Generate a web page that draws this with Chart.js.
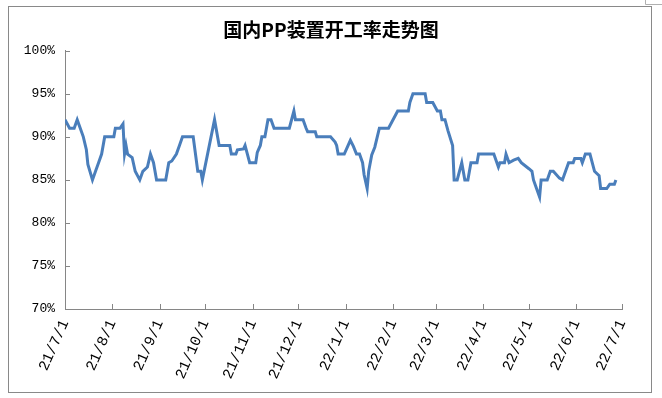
<!DOCTYPE html>
<html>
<head>
<meta charset="utf-8">
<script src="https://cdn.jsdelivr.net/npm/chart.js@4"></script>
<style>
    body { margin: 0; background: #fff; }
    canvas { display: block; }
</style>
</head>
<body>
<canvas id="rateChart" width="662" height="398"></canvas>
<script>

// breakpoints of the daily operating-rate line (date, value %)
const dates = [
    '2021-07-01', '2021-07-04', '2021-07-07', '2021-07-09', '2021-07-11', '2021-07-13',
    '2021-07-15', '2021-07-16', '2021-07-19', '2021-07-21', '2021-07-23', '2021-07-25',
    '2021-07-27', '2021-08-02', '2021-08-03', '2021-08-06', '2021-08-08', '2021-08-09',
    '2021-08-10', '2021-08-11', '2021-08-14', '2021-08-16', '2021-08-19', '2021-08-21',
    '2021-08-24', '2021-08-26', '2021-08-28', '2021-08-30', '2021-09-05', '2021-09-07',
    '2021-09-09', '2021-09-12', '2021-09-14', '2021-09-16', '2021-09-23', '2021-09-26',
    '2021-09-28', '2021-09-29', '2021-10-07', '2021-10-10', '2021-10-17', '2021-10-18',
    '2021-10-21', '2021-10-22', '2021-10-26', '2021-10-27', '2021-10-30', '2021-11-03',
    '2021-11-04', '2021-11-06', '2021-11-07', '2021-11-09', '2021-11-11', '2021-11-13',
    '2021-11-15', '2021-11-25', '2021-11-28', '2021-11-29', '2021-12-04', '2021-12-06',
    '2021-12-07', '2021-12-12', '2021-12-13', '2021-12-22', '2021-12-25', '2021-12-26',
    '2021-12-27', '2021-12-31', '2022-01-04', '2022-01-06', '2022-01-08', '2022-01-10',
    '2022-01-12', '2022-01-13', '2022-01-15', '2022-01-16', '2022-01-18', '2022-01-20',
    '2022-01-23', '2022-01-29', '2022-02-04', '2022-02-11', '2022-02-12', '2022-02-14',
    '2022-02-22', '2022-02-23', '2022-02-27', '2022-03-02', '2022-03-04', '2022-03-05',
    '2022-03-07', '2022-03-09', '2022-03-12', '2022-03-13', '2022-03-15', '2022-03-18',
    '2022-03-20', '2022-03-22', '2022-03-24', '2022-03-28', '2022-03-29', '2022-04-08',
    '2022-04-11', '2022-04-12', '2022-04-15', '2022-04-16', '2022-04-18', '2022-04-21',
    '2022-04-24', '2022-04-26', '2022-05-01', '2022-05-03', '2022-05-04', '2022-05-06',
    '2022-05-08', '2022-05-09', '2022-05-13', '2022-05-15', '2022-05-17', '2022-05-21',
    '2022-05-23', '2022-05-25', '2022-05-27', '2022-05-30', '2022-05-31', '2022-06-04',
    '2022-06-05', '2022-06-07', '2022-06-10', '2022-06-13', '2022-06-16', '2022-06-17',
    '2022-06-21', '2022-06-23', '2022-06-26', '2022-06-27'
];

const rates = [
    92, 91, 91, 92, 91, 90,
    88.5, 86.8, 85, 86, 87, 88,
    90, 90, 91, 91, 91.5, 88,
    89, 88, 87.6, 86, 85, 86,
    86.5, 88, 87, 85, 85, 87,
    87.2, 88, 89, 90, 90, 86,
    86, 85, 92, 89, 89, 88,
    88, 88.5, 88.6, 89, 87, 87,
    88.2, 89, 90, 90, 92, 92,
    91, 91, 93, 92, 92, 91,
    90.6, 90.6, 90, 90, 89.4, 89,
    88, 88, 89.6, 88.9, 88, 88,
    87, 85.6, 84, 86, 87.9, 88.8,
    91, 91, 93, 93, 94, 95,
    95, 94, 94, 93, 93, 92,
    92, 90.7, 89, 85, 85, 87,
    85, 85, 87, 87, 88, 88,
    86.5, 87, 87, 88, 87, 87.3,
    87.5, 87, 86.3, 86, 85, 84,
    83, 85, 85, 86, 86, 85.2,
    85, 86, 87, 87, 87.5, 87.5,
    87, 88, 88, 86, 85.5, 84,
    84, 84.5, 84.5, 85
];

// month starts shown on the x axis
const monthTicks = [
    '2021-07-01', '2021-08-01', '2021-09-01', '2021-10-01', '2021-11-01', '2021-12-01',
    '2022-01-01', '2022-02-01', '2022-03-01', '2022-04-01', '2022-05-01', '2022-06-01',
    '2022-07-01'
];

const yTicks = [70, 75, 80, 85, 90, 95, 100];

const DAY = 86400000;
const start = Date.parse(monthTicks[0]);

function dayIndex(s) {
    return Math.round((Date.parse(s) - start) / DAY);
}

function dayLabel(v) {
    const d = new Date(start + v * DAY);
    return String(d.getUTCFullYear()).slice(2) + '/' + (d.getUTCMonth() + 1) + '/' + d.getUTCDate();
}

const points = dates.map((d, i) => ({ x: dayIndex(d), y: rates[i] }));
const tickDays = monthTicks.map(dayIndex);

const axisGray = '#868686';

// outer frame + inward tick marks
const framePlugin = {
    id: 'framePlugin',
    beforeDraw(chart) {
        const ctx = chart.ctx;
        ctx.save();
        ctx.strokeStyle = '#898989';
        ctx.lineWidth = 1;
        ctx.strokeRect(8.5, 6.5, 643, 386);
        ctx.beginPath();
        ctx.moveTo(645.5, 0);
        ctx.lineTo(645.5, 4.5);
        ctx.lineTo(662, 4.5);
        ctx.strokeStyle = '#b0b0b0';
        ctx.stroke();
        ctx.restore();
    },
    afterDatasetsDraw(chart) {
        const ctx = chart.ctx;
        const xs = chart.scales.x;
        const ys = chart.scales.y;
        const area = chart.chartArea;
        ctx.save();
        ctx.strokeStyle = axisGray;
        ctx.lineWidth = 1;
        ctx.beginPath();
        yTicks.forEach(v => {
            const y = Math.round(ys.getPixelForValue(v)) + 0.5;
            ctx.moveTo(area.left, y);
            ctx.lineTo(area.left + 5, y);
        });
        tickDays.forEach(v => {
            const x = Math.round(xs.getPixelForValue(v)) + 0.5;
            ctx.moveTo(x, area.bottom);
            ctx.lineTo(x, area.bottom - 5);
        });
        ctx.stroke();
        ctx.restore();
    }
};

new Chart(document.getElementById('rateChart'), {

    type: 'line',

    data: {
        datasets: [{
            data: points,
            borderColor: '#4a7ebb',
            borderWidth: 3,
            pointRadius: 0,
            tension: 0,
            fill: false
        }]
    },

    options: {

        responsive: false,
        animation: false,

        layout: {
            padding: 0
        },

        plugins: {
            legend: { display: false },
            tooltip: { enabled: false },
            title: {
                display: true,
                text: '国内PP装置开工率走势图',
                color: '#000',
                font: { family: '"Noto Sans CJK SC"', size: 19, weight: 'bold', lineHeight: 1.2 },
                padding: { top: 18, bottom: 10 }
            }
        },

        scales: {

            x: {
                type: 'linear',
                min: tickDays[0],
                max: tickDays[tickDays.length - 1],
                afterBuildTicks: scale => {
                    scale.ticks = tickDays.map(v => ({ value: v }));
                },
                afterFit: scale => { scale.height = 89; },
                grid: { display: false, drawTicks: false },
                border: { display: true, color: axisGray, width: 1 },
                ticks: {
                    autoSkip: false,
                    minRotation: 66,
                    maxRotation: 66,
                    padding: 8,
                    color: '#000',
                    font: { family: '"Liberation Mono"', size: 15 },
                    callback: v => dayLabel(v)
                }
            },

            y: {
                min: 70,
                max: 100,
                afterBuildTicks: scale => {
                    scale.ticks = yTicks.map(v => ({ value: v }));
                },
                afterFit: scale => { scale.width = 65; },
                grid: { display: false, drawTicks: false },
                border: { display: true, color: axisGray, width: 1 },
                ticks: {
                    padding: 10,
                    color: '#000',
                    font: { family: '"Liberation Mono"', size: 13 },
                    callback: v => v + '%'
                }
            },

            // empty right-hand axis, only reserves the gap right of the plot
            yRight: {
                position: 'right',
                display: true,
                afterFit: scale => { scale.width = 40; },
                grid: { display: false, drawTicks: false },
                border: { display: false },
                ticks: { display: false }
            }

        }

    },

    plugins: [framePlugin]

});

</script>
</body>
</html>
